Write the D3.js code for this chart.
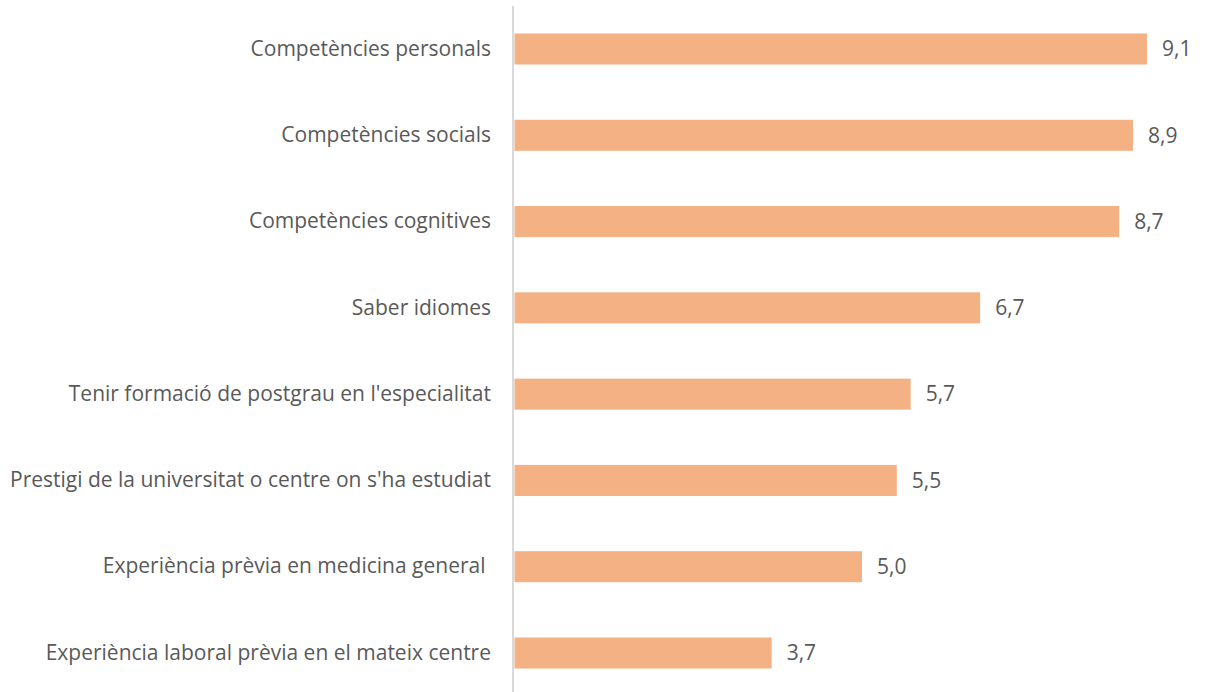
<!doctype html>
<html lang="ca">
<head>
<meta charset="utf-8" />
<title>Valoració</title>
<script src="https://cdn.jsdelivr.net/npm/d3@7"></script>
<style>
  html, body { margin: 0; padding: 0; background: #fff; }
  #grafic { width: 1211px; height: 692px; }
  text { font-family: "Open Sans", "Noto Sans", sans-serif; fill: #595959; }
</style>
</head>
<body>
<div id="grafic"></div>
<script>
// dades llegides del gràfic
var categories = [
  "Competències personals",
  "Competències socials",
  "Competències cognitives",
  "Saber idiomes",
  "Tenir formació de postgrau en l'especialitat",
  "Prestigi de la universitat o centre on s'ha estudiat",
  "Experiència prèvia en medicina general ",
  "Experiència laboral prèvia en el mateix centre"
];
var valors = [9.1, 8.9, 8.7, 6.7, 5.7, 5.5, 5.0, 3.7];

var amplada = 1211, alcada = 692;
var x0 = 514.5; // on comença l'eix

var svg = d3.select("#grafic").append("svg")
  .attr("width", amplada).attr("height", alcada);

var x = d3.scaleLinear().domain([0, 10]).range([x0, x0 + 695]);
var y = d3.scaleBand().domain(categories)
  .range([5.85, 696.15]).paddingInner(0.64).paddingOuter(0.32);

var fmt = function(v) { return d3.format(".1f")(v).replace(".", ","); };

// barres
svg.selectAll("rect.barra").data(valors).enter().append("rect")
  .attr("class", "barra")
  .attr("x", x(0))
  .attr("y", function(d, i) { return y(categories[i]); })
  .attr("width", function(d) { return x(d) - x(0); })
  .attr("height", y.bandwidth())
  .attr("fill", "#F4B183");

// etiquetes de valor
svg.selectAll("text.valor").data(valors).enter().append("text")
  .attr("class", "valor")
  .attr("x", function(d) { return x(d) + 15; })
  .attr("y", function(d, i) { return y(categories[i]) + y.bandwidth() / 2; })
  .attr("dy", "0.35em")
  .style("font-size", "21px")
  .text(fmt);

// eix vertical amb etiquetes
var eix = d3.axisLeft(y).tickSize(0).tickPadding(22);
var g = svg.append("g").attr("transform", "translate(" + (x0 - 1.5) + ",0)").call(eix);
g.select(".domain").attr("d", "M0,6V692").attr("stroke", "#d9d9d9").attr("stroke-width", 2);
g.selectAll(".tick text")
  .style("font-size", "21px")
  .style("font-family", "'Open Sans', 'Noto Sans', sans-serif")
  .style("white-space", "pre") // es manté l'espai final de "general "
  .attr("fill", "#595959");
</script>
</body>
</html>
